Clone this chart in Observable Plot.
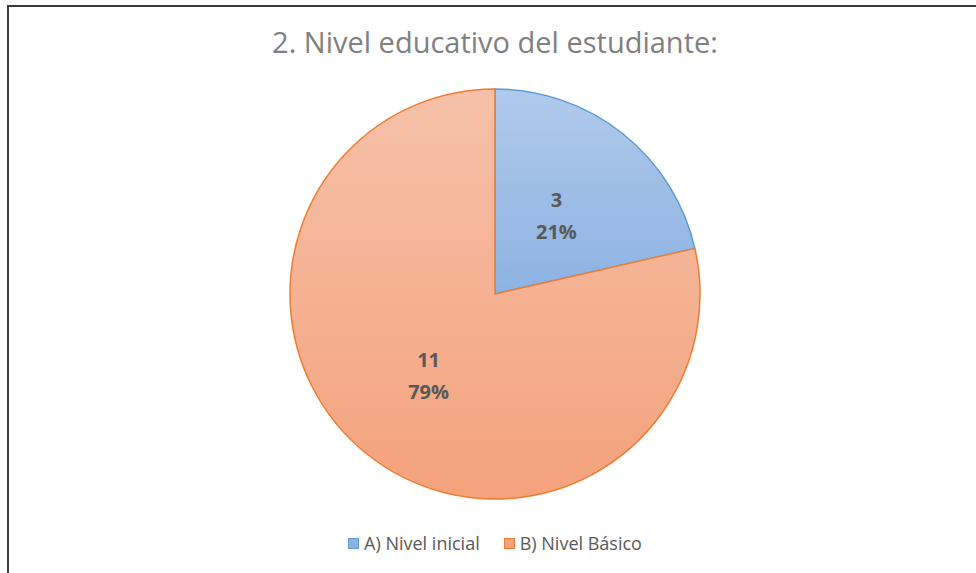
<!DOCTYPE html>
<html>
<head>
<meta charset="utf-8">
<script src="https://cdn.jsdelivr.net/npm/d3@7"></script>
<script src="https://cdn.jsdelivr.net/npm/@observablehq/plot@0.6"></script>
<style>
  html, body { margin: 0; padding: 0; background: #fff; width: 976px; height: 573px; overflow: hidden; }
  #frame { position: absolute; left: 7px; top: 5px; width: 1000px; height: 620px; border: 2px solid #3a3a3a; box-sizing: border-box; }
  #title { position: absolute; left: 0; width: 990px; top: 22px; text-align: center; font-family: "Open Sans", sans-serif; font-size: 29px; line-height: 40px; color: #808080; }
  #chart { position: absolute; left: 0; top: 69px; }
  #legend { position: absolute; left: 0; width: 990px; top: 531px; text-align: center; font-family: "Open Sans", sans-serif; font-size: 18px; line-height: 24px; color: #595959; }
  .item { display: inline-block; margin: 0 12px; }
  .sw { display: inline-block; width: 9px; height: 9px; margin-right: 5px; vertical-align: 1px; border: 1px solid; }
</style>
</head>
<body>
<div id="frame"></div>
<div id="title">2. Nivel educativo del estudiante:</div>
<div id="chart"></div>
<div id="legend"></div>
<script>
const categories = ["A) Nivel inicial", "B) Nivel Básico"];
const counts = [3, 11];
const percentLabels = ["21%", "79%"];
const fillTop = ["#b0caeb", "#f6c1a9"];
const fillBottom = ["#8db2e2", "#f4a27c"];
const strokeColors = ["#5b9bd5", "#ed7d31"];

const data = categories.map((c, i) => ({category: c, value: counts[i], pct: percentLabels[i]}));
const arcs = d3.pie().sort(null).value(d => d.value)(data);
const labelFrac = 0.5;
const labels = arcs.map(a => {
  const m = (a.startAngle + a.endAngle) / 2;
  return {x: Math.sin(m) * labelFrac, y: Math.cos(m) * labelFrac, text: `${a.data.value}\n${a.data.pct}`};
});

function pieMark(index, scales) {
  const cx = scales.x(0), cy = scales.y(0);
  const r = scales.x(1) - cx;
  const g = d3.create("svg:g");
  const defs = g.append("defs");
  arcs.forEach((a, i) => {
    const lg = defs.append("linearGradient").attr("id", "grad" + i).attr("x1", 0).attr("y1", 0).attr("x2", 0).attr("y2", 1);
    lg.append("stop").attr("offset", "0%").attr("stop-color", fillTop[i]);
    lg.append("stop").attr("offset", "100%").attr("stop-color", fillBottom[i]);
  });
  const arcGen = d3.arc().innerRadius(0).outerRadius(r);
  g.selectAll("path").data(arcs).join("path")
    .attr("transform", `translate(${cx},${cy})`)
    .attr("d", arcGen)
    .attr("fill", (d, i) => `url(#grad${i})`)
    .attr("stroke", (d, i) => strokeColors[i])
    .attr("stroke-width", 1.5)
    .attr("stroke-linejoin", "round");
  return g.node();
}

const plot = Plot.plot({
  width: 976,
  height: 450,
  marginLeft: 290,
  marginRight: 276,
  marginTop: 20,
  marginBottom: 20,
  x: {domain: [-1, 1], axis: null},
  y: {domain: [-1, 1], axis: null},
  style: {background: "transparent", overflow: "visible"},
  marks: [
    pieMark,
    Plot.text(labels, {x: "x", y: "y", text: "text", fontSize: 20, fontWeight: "bold", fill: "#595959", lineHeight: 1.6, dx: -3, dy: -1.5, fontFamily: "Open Sans, sans-serif"})
  ]
});
document.getElementById("chart").appendChild(plot);

const legend = d3.select("#legend");
categories.forEach((c, i) => {
  const it = legend.append("span").attr("class", "item");
  it.append("span").attr("class", "sw").style("background", fillBottom[i]).style("border-color", strokeColors[i]);
  it.append("span").text(c);
});
</script>
</body>
</html>
